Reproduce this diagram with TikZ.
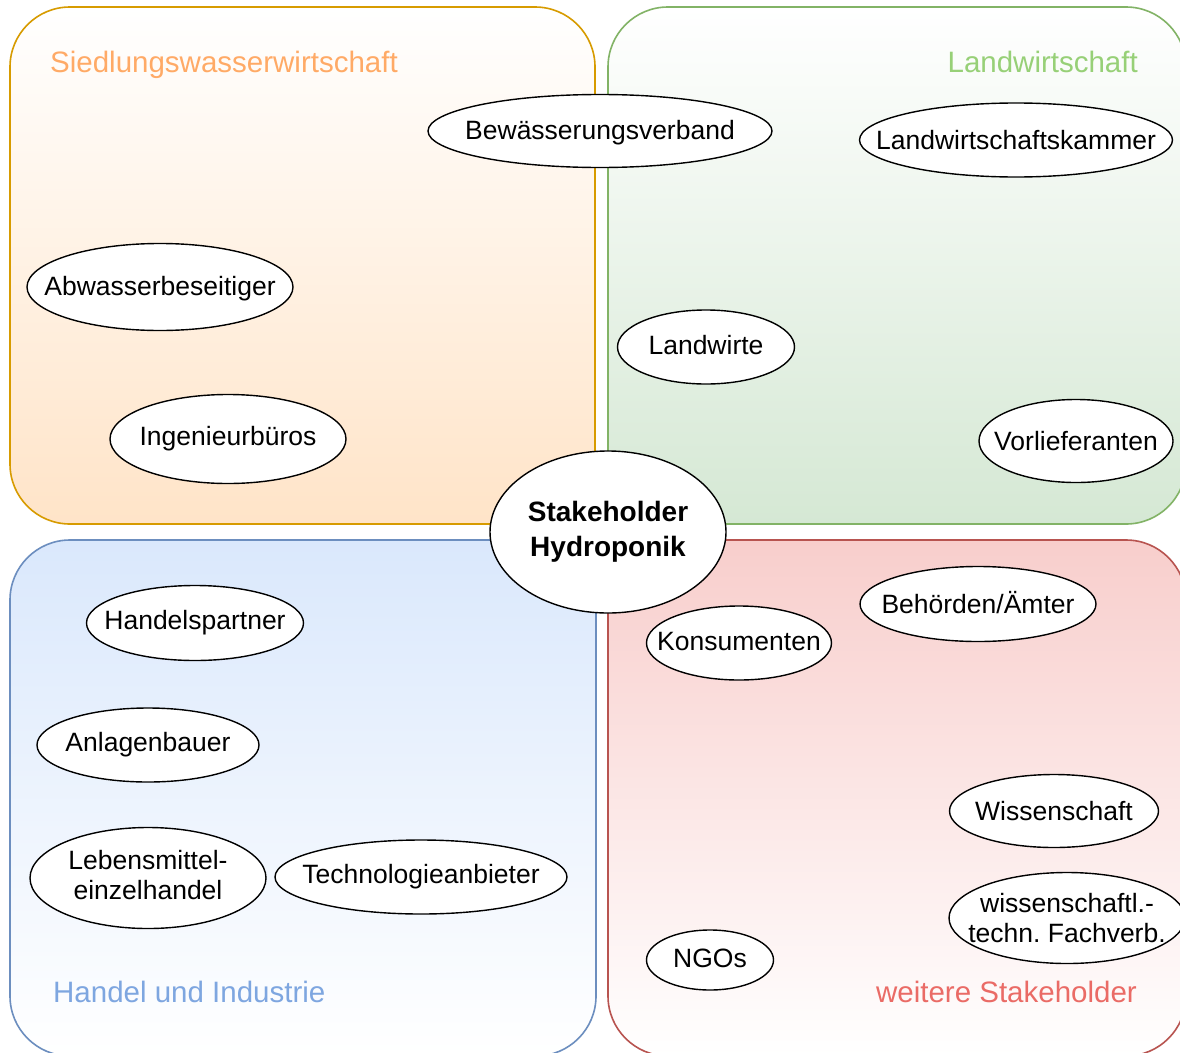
\documentclass[tikz,border=0pt]{standalone}
\usepackage{fontspec}
\setmainfont{Liberation Sans}
\usetikzlibrary{shapes.geometric}
\definecolor{orLine}{HTML}{D79B00}
\definecolor{orFill}{HTML}{FFE4C8}
\definecolor{orText}{HTML}{FFAA66}
\definecolor{grLine}{HTML}{82B366}
\definecolor{grFill}{HTML}{D5E8D4}
\definecolor{grText}{HTML}{97D077}
\definecolor{blLine}{HTML}{6C8EBF}
\definecolor{blFill}{HTML}{DAE8FC}
\definecolor{blText}{HTML}{7EA6E0}
\definecolor{rdLine}{HTML}{B85450}
\definecolor{rdFill}{HTML}{F8CECC}
\definecolor{rdText}{HTML}{EA6B66}
\frenchspacing
\begin{document}
\begin{tikzpicture}[x=1pt,y=-1pt,
  box/.style={line width=1.6pt, rounded corners=60pt},
  bub/.style={draw=black, fill=white, ellipse, line width=1.4pt, inner sep=0pt},
  btxt/.style={font=\fontsize{26.5}{30}\selectfont, align=center, inner sep=0pt, text=black},
  grp/.style={font=\fontsize{29.5}{34}\selectfont, inner sep=0pt},
]
\useasboundingbox (0,0) rectangle (1180,1052);
\clip (0,0) rectangle (1180,1052);
\fill[white] (0,0) rectangle (1180,1052);

% group boxes
\path[box, draw=orLine, top color=white, bottom color=orFill] (10,7) rectangle (595,524);
\path[box, draw=grLine, top color=white, bottom color=grFill] (608,7) rectangle (1186,524);
\path[box, draw=blLine, top color=blFill, bottom color=white] (10,540) rectangle (596,1056);
\path[box, draw=rdLine, top color=rdFill, bottom color=white] (608,540) rectangle (1186,1056);

% group labels
\node[grp, text=orText, anchor=base west] (lsiedl) at (50,72.5) {Siedlungswasserwirtschaft};
\node[grp, text=grText, anchor=base east] (lland) at (1138,72.5) {Landwirtschaft};
\node[grp, text=blText, anchor=base west] (lhandel) at (53,1002.5) {Handel und Industrie};
\node[grp, text=rdText, anchor=base east] (lweitere) at (1137,1002.5) {weitere Stakeholder};

% stakeholder ellipses
\node[bub, minimum width=344pt, minimum height=73pt, label={[btxt, yshift=-1.5pt]center:Bewässerungsverband}] (bew) at (600,131) {};
\node[bub, minimum width=313pt, minimum height=74pt, label={[btxt]center:Landwirtschaftskammer}] (lwk) at (1016,140) {};
\node[bub, minimum width=266pt, minimum height=87pt, label={[btxt, yshift=-2pt]center:Abwasserbeseitiger}] (abw) at (160,287) {};
\node[bub, minimum width=177pt, minimum height=74pt, label={[btxt, yshift=2pt]center:Landwirte}] (lwi) at (706,347) {};
\node[bub, minimum width=236pt, minimum height=89pt, label={[btxt]center:Ingenieurbüros}] (ing) at (228,439) {};
\node[bub, minimum width=194pt, minimum height=83pt, label={[btxt]center:Vorlieferanten}] (vor) at (1076,441) {};
\node[bub, minimum width=217pt, minimum height=75pt, label={[btxt]center:Handelspartner}] (hpa) at (195,623) {};
\node[bub, minimum width=236pt, minimum height=75pt, label={[btxt, yshift=1pt]center:Behörden/Ämter}] (beh) at (978,604) {};
\node[bub, minimum width=185pt, minimum height=74pt, label={[btxt, yshift=1pt]center:Konsumenten}] (kon) at (739,643) {};
\node[bub, minimum width=222pt, minimum height=74pt, label={[btxt]center:Anlagenbauer}] (anl) at (148,745) {};
\node[bub, minimum width=209pt, minimum height=73pt, label={[btxt]center:Wissenschaft}] (wis) at (1054,811) {};
\node[bub, minimum width=236pt, minimum height=101pt, label={[btxt, yshift=3pt]center:{Lebensmittel-\\einzelhandel}}] (leh) at (148,878) {};
\node[bub, minimum width=292pt, minimum height=74pt, label={[btxt]center:Technologieanbieter}] (tec) at (421,877) {};
\node[bub, minimum width=236pt, minimum height=91pt, label={[btxt]center:{wissenschaftl.-\\techn.\ Fachverb.}}] (wtf) at (1067,918) {};
\node[bub, minimum width=127pt, minimum height=60pt, label={[btxt, yshift=1.5pt]center:NGOs}] (ngo) at (710,960) {};

% centre
\node[bub, minimum width=236pt, minimum height=162pt, label={[btxt, font=\fontsize{28}{35}\selectfont\bfseries]center:{Stakeholder\\Hydroponik}}] (hub) at (608,532) {};
\end{tikzpicture}
\end{document}
